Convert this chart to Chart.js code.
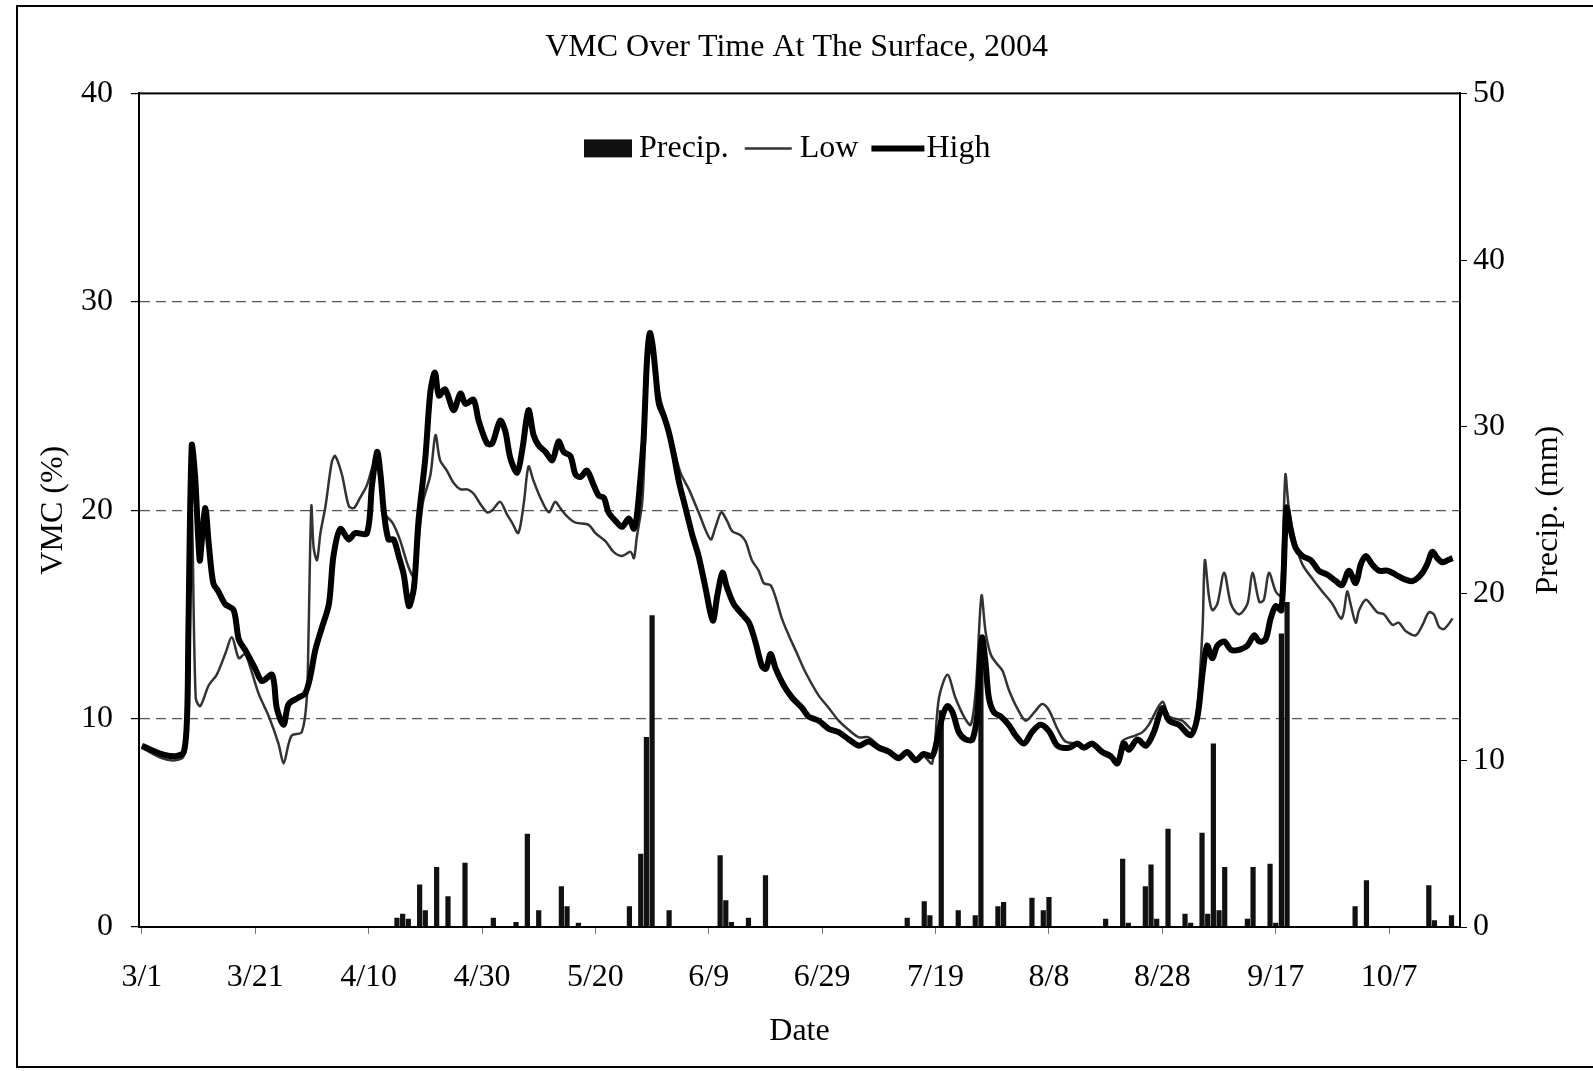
<!DOCTYPE html>
<html>
<head>
<meta charset="utf-8">
<title>VMC Over Time At The Surface, 2004</title>
<script src="https://cdn.jsdelivr.net/npm/chart.js@4.4.0/dist/chart.umd.min.js"></script>
<style>
  html, body { margin: 0; padding: 0; background: #fff; }
  #chart { display: block; }
</style>
</head>
<body>
<canvas id="chart" width="1593" height="1071"></canvas>
<script>
// x values are days counted from 3/1/2004
const tickDays = [0, 20, 40, 60, 80, 100, 120, 140, 160, 180, 200, 220];
const tickLabels = ["3/1", "3/21", "4/10", "4/30", "5/20", "6/9", "6/29", "7/19", "8/8", "8/28", "9/17", "10/7"];

// daily precipitation (mm), right axis
const precipDays = [
  45, 46, 47, 49, 50, 52, 54, 57, 62, 66,
  68, 70, 74, 75, 77, 86, 88, 89, 90, 93,
  102, 103, 104, 107, 110, 135, 138, 139, 141, 144,
  147, 148, 151, 152, 157, 159, 160, 170, 173, 174,
  177, 178, 179, 181, 184, 185, 187, 188, 189, 190,
  191, 195, 196, 199, 200, 201, 202, 214, 216, 227,
  228, 231
];
const precipMm = [
  0.55, 0.8, 0.5, 2.55, 1.0, 3.6, 1.85, 3.85, 0.55, 0.3,
  5.6, 1.0, 2.45, 1.25, 0.25, 1.25, 4.4, 11.4, 18.7, 1.0,
  4.3, 1.6, 0.3, 0.55, 3.1, 0.55, 1.55, 0.7, 13.0, 1.0,
  0.7, 17.5, 1.25, 1.5, 1.75, 1.0, 1.8, 0.5, 4.1, 0.25,
  2.45, 3.75, 0.5, 5.9, 0.8, 0.25, 5.65, 0.8, 11.0, 1.0,
  3.6, 0.5, 3.6, 3.8, 0.25, 17.6, 19.5, 1.25, 2.8, 2.5,
  0.4, 0.7
];

// VMC (%) of the high sensor
const highDays = [
  0, 3.5, 5.9, 7.4, 8.0, 8.2, 8.8, 9.4, 10.2, 10.6,
  11.2, 11.8, 12.6, 13.5, 14.7, 16.2, 17.1, 18.2, 20.0, 21.2,
  23.0, 23.8, 25.0, 25.9, 27.6, 28.8, 29.7, 30.6, 31.8, 33.0,
  33.8, 35.0, 36.5, 37.6, 39.7, 40.6, 41.5, 42.1, 42.7, 43.5,
  44.4, 45.3, 46.2, 47.1, 48.0, 48.8, 50.0, 50.9, 51.7, 52.4,
  53.5, 55.0, 56.2, 57.1, 58.5, 59.4, 60.9, 61.8, 63.2, 64.1,
  65.0, 66.2, 67.1, 68.2, 69.1, 70.0, 71.2, 72.4, 73.5, 74.4,
  75.6, 76.5, 77.4, 78.5, 79.7, 80.6, 81.5, 82.3, 83.5, 84.7,
  85.9, 86.8, 87.3, 87.9, 88.5, 89.1, 89.6, 90.1, 90.6, 91.2,
  92.1, 92.9, 93.8, 94.7, 95.9, 97.1, 98.2, 99.4, 100.7, 101.5,
  102.4, 103.2, 104.4, 105.9, 107.1, 108.2, 109.4, 110.1, 110.9, 111.8,
  113.2, 114.7, 116.5, 117.6, 119.4, 121.2, 122.9, 124.7, 126.5, 128.2,
  130.0, 131.8, 133.5, 135.0, 136.5, 137.9, 139.4, 140.3, 141.2, 142.1,
  143.0, 144.1, 145.3, 146.5, 147.4, 147.8, 148.2, 148.8, 149.4, 150.3,
  151.5, 152.9, 154.1, 155.6, 157.0, 158.5, 160.0, 161.5, 163.5, 165.0,
  166.2, 167.6, 169.4, 170.9, 172.1, 173.2, 174.1, 175.6, 177.1, 178.5,
  180.0, 181.2, 182.9, 185.0, 186.2, 187.1, 187.9, 188.8, 189.7, 190.9,
  192.1, 193.5, 195.0, 196.2, 197.1, 198.2, 199.1, 200.0, 201.0, 201.9,
  202.6, 203.5, 204.7, 206.2, 207.6, 209.1, 210.6, 211.7, 212.9, 214.1,
  215.0, 215.9, 217.0, 218.2, 219.7, 221.2, 222.6, 224.1, 225.6, 226.7,
  227.6, 228.5, 229.4, 230.3, 231.2
];
const highVmc = [
  8.7, 8.3, 8.2, 8.4, 10.3, 14.0, 23.1, 21.6, 17.6, 18.6,
  20.1, 18.4, 16.5, 16.1, 15.5, 15.2, 13.8, 13.3, 12.4, 11.8,
  12.1, 10.5, 9.7, 10.7, 11.0, 11.2, 12.0, 13.3, 14.4, 15.5,
  17.8, 19.1, 18.6, 18.9, 18.9, 21.2, 22.8, 21.7, 19.9, 18.6,
  18.6, 17.8, 16.9, 15.4, 16.3, 19.5, 22.5, 25.7, 26.6, 25.5,
  25.8, 24.8, 25.6, 25.1, 25.3, 24.3, 23.2, 23.2, 24.3, 23.8,
  22.5, 21.8, 22.9, 24.8, 23.6, 23.1, 22.8, 22.4, 23.3, 22.8,
  22.6, 21.7, 21.6, 21.9, 21.2, 20.7, 20.6, 19.9, 19.5, 19.2,
  19.6, 19.1, 19.7, 21.4, 23.4, 27.2, 28.5, 27.9, 26.6, 25.1,
  24.5, 23.8, 22.7, 21.4, 20.1, 18.8, 17.8, 16.3, 14.7, 15.9,
  17.0, 16.3, 15.5, 15.0, 14.6, 13.7, 12.5, 12.4, 13.1, 12.4,
  11.6, 11.0, 10.5, 10.1, 9.9, 9.5, 9.35, 9.0, 8.7, 8.9,
  8.6, 8.4, 8.1, 8.4, 8.0, 8.3, 8.2, 9.0, 10.1, 10.6,
  10.3, 9.35, 9.0, 9.0, 10.3, 12.5, 13.9, 12.7, 11.0, 10.3,
  10.1, 9.7, 9.2, 8.8, 9.35, 9.7, 9.4, 8.7, 8.6, 8.8,
  8.6, 8.8, 8.4, 8.2, 7.85, 8.8, 8.5, 9.0, 8.7, 9.35,
  10.5, 9.9, 9.7, 9.2, 10.1, 12.2, 13.5, 12.9, 13.5, 13.7,
  13.3, 13.3, 13.5, 14.0, 13.7, 13.8, 14.8, 15.4, 15.2, 20.1,
  19.1, 18.2, 17.8, 17.6, 17.1, 16.9, 16.6, 16.4, 17.1, 16.5,
  17.4, 17.8, 17.4, 17.1, 17.1, 16.9, 16.7, 16.6, 16.9, 17.4,
  18.0, 17.7, 17.5, 17.6, 17.7
];

// VMC (%) of the low sensor
const lowDays = [
  0, 3.5, 5.9, 7.4, 8.0, 8.2, 8.8, 9.5, 10.3, 11.8,
  13.2, 14.7, 15.9, 17.1, 18.2, 19.2, 20.6, 22.4, 24.1, 25.0,
  25.9, 26.5, 28.2, 29.1, 29.4, 29.9, 30.3, 30.9, 31.5, 32.4,
  33.5, 34.1, 35.3, 36.5, 37.4, 38.5, 39.7, 40.6, 41.5, 42.7,
  44.2, 45.5, 47.0, 48.0, 48.8, 49.6, 50.9, 51.8, 52.6, 53.8,
  55.0, 56.2, 57.4, 58.5, 59.7, 60.9, 61.8, 63.2, 64.4, 65.3,
  66.4, 67.4, 68.2, 69.1, 70.3, 71.8, 72.9, 73.8, 75.0, 76.5,
  78.8, 80.0, 81.8, 83.2, 84.7, 86.2, 86.8, 87.3, 88.3, 89.0,
  89.6, 90.6, 91.5, 92.5, 93.8, 95.0, 96.5, 98.2, 100.3, 101.2,
  102.2, 103.2, 104.1, 105.6, 106.5, 107.6, 108.8, 109.7, 110.9, 111.8,
  112.9, 114.1, 115.6, 117.1, 119.4, 121.2, 122.9, 124.7, 126.5, 128.2,
  130.0, 131.8, 133.5, 135.0, 136.5, 137.9, 139.4, 140.6, 142.1, 143.5,
  145.0, 146.2, 147.1, 148.1, 148.8, 149.7, 150.6, 151.8, 152.9, 154.4,
  155.9, 157.4, 158.8, 160.0, 161.5, 162.9, 164.7, 166.2, 167.6, 169.4,
  170.9, 172.1, 172.9, 175.3, 176.5, 177.6, 180.0, 181.2, 183.5, 185.3,
  186.2, 187.1, 187.5, 188.2, 188.8, 189.7, 190.9, 192.1, 193.5, 195.0,
  195.9, 197.1, 197.9, 198.8, 200.0, 200.9, 201.7, 202.3, 203.5, 204.7,
  206.5, 208.2, 210.0, 211.5, 212.0, 212.6, 213.2, 214.1, 214.7, 215.9,
  217.0, 217.9, 219.1, 220.6, 221.7, 222.9, 224.7, 225.9, 227.0, 227.9,
  228.8, 229.7, 231.2
];
const lowVmc = [
  8.6, 8.1, 8.0, 8.2, 10.0, 14.0, 20.0, 11.0, 10.6, 11.6,
  12.1, 13.1, 13.9, 12.9, 13.1, 12.4, 11.2, 10.1, 8.8, 7.85,
  8.8, 9.2, 9.35, 11.0, 14.0, 20.2, 18.2, 17.6, 18.9, 20.2,
  22.3, 22.6, 21.7, 20.2, 20.1, 20.6, 21.2, 22.0, 22.6, 19.9,
  19.4, 18.6, 17.3, 16.8, 18.5, 20.4, 21.7, 23.6, 22.4, 21.9,
  21.3, 21.0, 21.0, 20.8, 20.3, 19.9, 20.0, 20.4, 19.8, 19.4,
  18.9, 20.4, 22.1, 21.4, 20.6, 19.9, 20.4, 20.1, 19.7, 19.4,
  19.3, 18.9, 18.5, 18.0, 17.8, 18.0, 17.7, 18.7, 20.5, 25.5,
  28.0, 26.8, 25.3, 24.4, 23.0, 21.8, 21.0, 19.9, 18.6, 19.2,
  19.9, 19.5, 19.0, 18.8, 18.5, 17.6, 17.1, 16.5, 16.4, 15.8,
  14.8, 14.0, 13.1, 12.2, 11.1, 10.5, 9.9, 9.45, 9.1, 9.1,
  8.7, 8.5, 8.2, 8.4, 8.1, 8.2, 7.85, 11.0, 12.1, 11.0,
  10.1, 9.7, 11.4, 15.9, 14.2, 13.1, 12.7, 12.3, 11.4, 10.5,
  9.9, 10.3, 10.7, 10.4, 9.5, 8.9, 8.8, 8.6, 8.7, 8.3,
  8.1, 7.8, 8.9, 9.2, 9.35, 9.7, 10.8, 10.1, 9.9, 9.5,
  10.6, 14.4, 17.6, 15.9, 15.2, 15.5, 17.0, 15.5, 15.0, 15.5,
  17.0, 15.6, 15.7, 17.0, 16.1, 15.9, 21.7, 20.1, 18.4, 17.4,
  16.7, 16.1, 15.5, 14.8, 15.1, 16.1, 15.5, 14.6, 15.2, 15.7,
  15.4, 15.1, 15.0, 14.5, 14.6, 14.2, 14.0, 14.5, 15.1, 15.0,
  14.4, 14.3, 14.8
];

const toPoints = (xs, ys) => xs.map((x, i) => ({ x: x, y: ys[i] }));

const SERIF = '"Liberation Serif", "Times New Roman", serif';
Chart.defaults.font.family = SERIF;
Chart.defaults.font.size = 32;
Chart.defaults.color = "#000";

// white page with the thin frame round the figure
const framePlugin = {
  id: "frame",
  beforeDraw(chart) {
    const ctx = chart.ctx;
    ctx.save();
    ctx.fillStyle = "#fff";
    ctx.fillRect(0, 0, chart.width, chart.height);
    ctx.strokeStyle = "#000";
    ctx.lineWidth = 2;
    ctx.strokeRect(17, 6, chart.width + 20, 1061);
    ctx.restore();
  },
  afterDraw(chart) {
    const { ctx, chartArea: a } = chart;
    ctx.save();
    ctx.strokeStyle = "#000";
    ctx.lineWidth = 2;
    ctx.strokeRect(a.left, a.top, a.right - a.left, a.bottom - a.top);

    // right axis title reads bottom to top like the left one
    ctx.font = "32px " + SERIF;
    ctx.fillStyle = "#000";
    ctx.textAlign = "center";
    ctx.textBaseline = "middle";
    ctx.translate(1549, (a.top + a.bottom) / 2);
    ctx.rotate(-Math.PI / 2);
    ctx.fillText("Precip. (mm)", 0, 0);
    ctx.restore();
  },
};

// legend sits inside the plot, near the top
const insideLegend = {
  id: "insideLegend",
  afterDraw(chart) {
    const ctx = chart.ctx;
    const y = chart.chartArea.top + 55;
    ctx.save();
    ctx.font = "32px " + SERIF;
    ctx.fillStyle = "#000";
    ctx.strokeStyle = "#000";
    ctx.textAlign = "left";
    ctx.textBaseline = "middle";
    let x = 584;

    ctx.fillStyle = "#111";
    ctx.fillRect(x, y - 9, 48, 18);
    ctx.fillStyle = "#000";
    x += 55;
    ctx.fillText("Precip.", x, y);
    x += ctx.measureText("Precip.").width + 16;

    ctx.lineWidth = 2.5;
    ctx.strokeStyle = "#333";
    ctx.beginPath();
    ctx.moveTo(x, y);
    ctx.lineTo(x + 47, y);
    ctx.stroke();
    x += 55;
    ctx.fillText("Low", x, y);
    x += ctx.measureText("Low").width + 13;

    ctx.lineWidth = 6;
    ctx.strokeStyle = "#000";
    ctx.beginPath();
    ctx.moveTo(x, y);
    ctx.lineTo(x + 53, y);
    ctx.stroke();
    x += 55;
    ctx.fillText("High", x, y);
    ctx.restore();
  },
};

new Chart(document.getElementById("chart"), {
  type: "bar",
  data: {
    datasets: [
      {
        type: "line",
        label: "High",
        data: toPoints(highDays, highVmc),
        yAxisID: "y",
        borderColor: "#000",
        borderWidth: 6,
        pointRadius: 0,
        tension: 0.3,
        order: 0,
      },
      {
        type: "line",
        label: "Low",
        data: toPoints(lowDays, lowVmc),
        yAxisID: "y",
        borderColor: "#333",
        borderWidth: 2.5,
        pointRadius: 0,
        tension: 0.3,
        order: 1,
      },
      {
        type: "bar",
        label: "Precip.",
        data: toPoints(precipDays, precipMm),
        yAxisID: "y1",
        backgroundColor: "#111",
        barPercentage: 0.92,
        categoryPercentage: 1,
        order: 2,
      },
    ],
  },
  options: {
    responsive: false,
    animation: false,
    devicePixelRatio: 1,
    layout: { padding: 0 },
    plugins: {
      legend: { display: false },
      tooltip: { enabled: false },
      title: {
        display: true,
        text: "VMC Over Time At The Surface, 2004",
        font: { size: 32, weight: "normal" },
        color: "#000",
        padding: { top: 28, bottom: 27 },
      },
    },
    scales: {
      x: {
        type: "linear",
        offset: false,
        min: -0.5,
        max: 232.5,
        afterBuildTicks: (axis) => {
          axis.ticks = tickDays.map((v) => ({ value: v }));
        },
        ticks: {
          callback: (v) => tickLabels[tickDays.indexOf(v)],
          padding: 24,
          maxRotation: 0,
          autoSkip: false,
        },
        grid: { offset: false, drawOnChartArea: false, tickLength: 7, tickColor: "#777" },
        border: { color: "#000", width: 2 },
        title: { display: true, text: "Date", padding: { top: 0, bottom: 20 } },
        afterFit: (s) => { s.height = 144; },
      },
      y: {
        position: "left",
        min: 0,
        max: 40,
        ticks: { stepSize: 10, padding: 18 },
        grid: {
          color: (c) => (c.tick.value === 0 || c.tick.value === 40 ? "rgba(0,0,0,0)" : "#555"),
          lineWidth: 1.2,
          tickColor: "#000",
          tickLength: 8,
          tickBorderDash: [],
        },
        border: { color: "#000", width: 2, dash: [10, 6] },
        title: { display: true, text: "VMC (%)", padding: { top: 34, bottom: 0 } },
        afterFit: (s) => { s.width = 139; },
      },
      y1: {
        position: "right",
        min: 0,
        max: 50,
        ticks: { stepSize: 10, padding: 6 },
        grid: { drawOnChartArea: false, tickLength: 7, tickColor: "#000" },
        border: { color: "#000", width: 2 },
        afterFit: (s) => { s.width = 133; },
      },
    },
  },
  plugins: [framePlugin, insideLegend],
});
</script>
</body>
</html>
